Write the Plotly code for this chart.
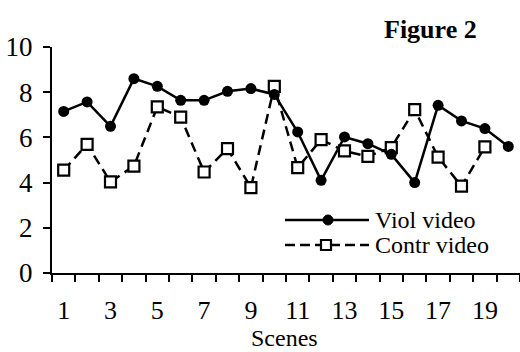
import plotly.graph_objects as go

# Mean ratings per scene for the two video conditions
scenes = list(range(1, 21))
viol_video = [7.15, 7.57, 6.49, 8.6, 8.26, 7.64, 7.64, 8.04, 8.16, 7.9,
              6.24, 4.1, 6.02, 5.72, 5.25, 4.0, 7.42, 6.73, 6.39, 5.6]
contr_scenes = list(range(1, 20))
contr_video = [4.55, 5.69, 4.03, 4.73, 7.35, 6.9, 4.47, 5.5, 3.78, 8.26,
               4.66, 5.9, 5.4, 5.16, 5.55, 7.23, 5.13, 3.84, 5.58]
x_tick_labels = [1, 3, 5, 7, 9, 11, 13, 15, 17, 19]
y_ticks = [0, 2, 4, 6, 8, 10]

W, H = 520, 352
ML, MR, MT, MB = 52, 0, 47, 79
FONT = "Liberation Serif, Times New Roman, serif"
FS = 27

fig = go.Figure()
fig.add_trace(go.Scatter(
    x=contr_scenes, y=contr_video, mode="lines+markers", name="Contr video",
    line=dict(color="black", width=2.5, dash="10px,6px"),
    marker=dict(symbol="square", size=11, color="white",
                line=dict(color="black", width=2.2)),
    showlegend=False,
))
fig.add_trace(go.Scatter(
    x=scenes, y=viol_video, mode="lines+markers", name="Viol video",
    line=dict(color="black", width=2.5),
    marker=dict(symbol="circle", size=11, color="black"),
    showlegend=False,
))

# Legend key drawn in pixel positions converted to paper coordinates
pw, ph = W - ML - MR, H - MT - MB


def px(xp):
    return (xp - ML) / pw


def py(yp):
    return (H - MB - yp) / ph


shapes = []
rows = [(220, "solid", "circle", "Viol video"),
        (245, "dash", "square", "Contr video")]
for yrow, dash, sym, label in rows:
    shapes.append(dict(type="line", xref="paper", yref="paper",
                       x0=px(285), x1=px(369), y0=py(yrow), y1=py(yrow),
                       line=dict(color="black", width=2.5,
                                 dash="solid" if dash == "solid" else "10px,5px")))
    if sym == "circle":
        shapes.append(dict(type="circle", xref="paper", yref="paper",
                           x0=px(323), x1=px(333), y0=py(yrow + 5), y1=py(yrow - 5),
                           fillcolor="black", line=dict(color="black", width=1)))
    else:
        shapes.append(dict(type="rect", xref="paper", yref="paper",
                           x0=px(321), x1=px(331), y0=py(yrow + 5), y1=py(yrow - 5),
                           fillcolor="white", line=dict(color="black", width=2.2)))

annotations = [
    dict(text="Figure 2", xref="paper", yref="paper", x=px(430), y=py(29),
         showarrow=False, xanchor="center", yanchor="middle",
         font=dict(family=FONT, size=26, color="black", weight="bold")),
    dict(text="Scenes", xref="paper", yref="paper", x=px(284), y=py(338),
         showarrow=False, xanchor="center", yanchor="middle",
         font=dict(family=FONT, size=24, color="black")),
]
for yrow, _, _, label in rows:
    annotations.append(dict(text=label, xref="paper", yref="paper",
                            x=px(373), y=py(yrow), showarrow=False,
                            xanchor="left", yanchor="middle",
                            font=dict(family=FONT, size=24, color="black")))

fig.update_layout(
    width=W, height=H,
    margin=dict(l=ML, r=MR, t=MT, b=MB),
    paper_bgcolor="white", plot_bgcolor="white",
    font=dict(family=FONT, size=FS, color="black"),
    shapes=shapes, annotations=annotations,
    xaxis=dict(
        range=[0.5, 20.5], tickvals=x_tick_labels,
        ticktext=[str(v) for v in x_tick_labels],
        ticks="", ticklabelstandoff=13,
        minor=dict(ticks="outside", ticklen=7, tickwidth=2, tickcolor="black",
                   tick0=0.5, dtick=1),
        showgrid=False, zeroline=False,
        showline=True, linecolor="black", linewidth=2,
        tickfont=dict(family=FONT, size=26),
    ),
    yaxis=dict(
        range=[0, 10], tickvals=y_ticks,
        ticks="outside", ticklen=7, tickwidth=2, tickcolor="black",
        ticklabelstandoff=5,
        showgrid=False, zeroline=False,
        showline=True, linecolor="black", linewidth=2,
        tickfont=dict(family=FONT, size=FS),
    ),
)

fig.write_html("out.html")
